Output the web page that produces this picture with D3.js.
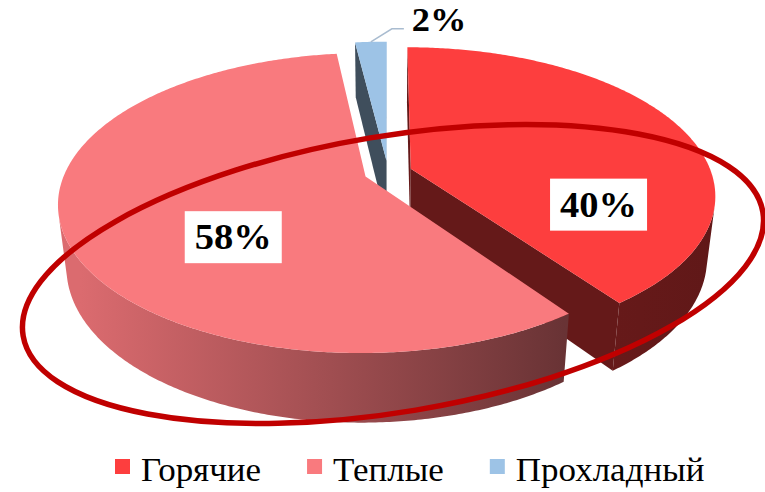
<!DOCTYPE html>
<html>
<head>
<meta charset="utf-8">
<script src="https://cdn.jsdelivr.net/npm/d3@7/dist/d3.min.js"></script>
<style>
  body { margin: 0; background: #fff; }
  svg { display: block; }
</style>
</head>
<body>
<svg id="chart"></svg>
<script>
var width = 765;
var height = 492;

var categories = ["Горячие", "Теплые", "Прохладный"];
var values = [40, 58, 2];
var labels = ["40%", "58%", "2%"];
var colors = ["#FD3E3E", "#F97A7E", "#9DC3E6"];

// where each label sits on its slice (degrees clockwise from 12 o'clock, fraction of radius)
var labelAngles = [112, 226, 356.4];
var labelRadius = [0.645, 0.56, 1.0];

// 3d view settings
var cx = 388, cy = 234, scale = 293;
var tilt = 31 * Math.PI / 180, dist = 5;
var thick = 0.24, explode = 0.08;
var cosT = Math.cos(tilt), sinT = Math.sin(tilt);
var camZ = -dist * cosT;

function proj(x, y, z) {
    var yv = y * cosT + z * sinT;
    var zv = z * cosT - y * sinT;
    var f = 1 / (1 + zv / dist);
    return [cx + scale * x * f, cy - scale * yv * f];
}

function shade(c, k) {
    var r = d3.rgb(c);
    return d3.rgb(r.r * k, r.g * k, r.b * k).formatHex();
}

var svg = d3.select("#chart")
    .attr("width", width)
    .attr("height", height);

var defs = svg.append("defs");
var line = d3.line();

var arcs = d3.pie().sort(null)(values).map(function(d, i) {
    var mid = (d.startAngle + d.endAngle) / 2;
    d.i = i;
    d.ox = explode * Math.sin(mid);
    d.oz = explode * Math.cos(mid);
    return d;
});

// side gradients, light on the left and dark on the right
var gx1 = proj(-1.05, 0, 0)[0], gx2 = proj(1.12, 0, 0)[0];
colors.forEach(function(c, i) {
    var g = defs.append("linearGradient")
        .attr("id", "side" + i)
        .attr("gradientUnits", "userSpaceOnUse")
        .attr("x1", gx1).attr("x2", gx2)
        .attr("y1", 0).attr("y2", 0);
    g.append("stop").attr("offset", 0).attr("stop-color", shade(c, 0.88));
    g.append("stop").attr("offset", 0.76).attr("stop-color", shade(c, 0.42));
    g.append("stop").attr("offset", 1).attr("stop-color", shade(c, 0.38));
});

function rim(d, a, r, y) {
    return proj(d.ox + r * Math.sin(a), y, d.oz + r * Math.cos(a));
}

var pie3d = svg.append("g");

arcs.slice().sort(function(a, b) { return b.oz - a.oz; }).forEach(function(d) {
    var g = pie3d.append("g");

    // cut faces
    [[d.startAngle, -1], [d.endAngle, 1]].forEach(function(e) {
        var a = e[0], s = e[1];
        var nx = s * Math.cos(a), nz = -s * Math.sin(a);
        var vis = nx * (0 - d.ox) + nz * (camZ - d.oz);
        if (vis <= 0) return;
        var pts = [rim(d, a, 0, thick), rim(d, a, 1, thick), rim(d, a, 1, 0), rim(d, a, 0, 0)];
        g.append("path")
            .attr("d", line(pts) + "Z")
            .attr("fill", shade(colors[d.i], 0.4));
    });

    // outer side, only the part facing the camera
    var n = Math.max(4, Math.ceil((d.endAngle - d.startAngle) / 0.01));
    var runs = [], cur = null;
    for (var k = 0; k <= n; k++) {
        var a = d.startAngle + (d.endAngle - d.startAngle) * k / n;
        var px = d.ox + Math.sin(a), pz = d.oz + Math.cos(a);
        var v = Math.sin(a) * (0 - px) + Math.cos(a) * (camZ - pz);
        if (v > 0) {
            if (!cur) { cur = []; runs.push(cur); }
            cur.push(a);
        } else cur = null;
    }
    runs.forEach(function(run) {
        var top = run.map(function(a) { return rim(d, a, 1, thick); });
        var bot = run.slice().reverse().map(function(a) { return rim(d, a, 1, 0); });
        g.append("path")
            .attr("d", line(top.concat(bot)) + "Z")
            .attr("fill", "url(#side" + d.i + ")");
    });

    // top face
    var tp = [rim(d, 0, 0, thick)];
    for (var k = 0; k <= n; k++) {
        var a = d.startAngle + (d.endAngle - d.startAngle) * k / n;
        tp.push(rim(d, a, 1, thick));
    }
    g.append("path")
        .attr("d", line(tp) + "Z")
        .attr("fill", colors[d.i]);
});

// data labels (glyphs a touch wider than Liberation Serif in the original)
var labelFont = "'Times New Roman', 'Liberation Serif', serif";
var stretch = 1.07;
arcs.forEach(function(d) {
    var a = labelAngles[d.i] * Math.PI / 180;
    var p = rim(d, a, labelRadius[d.i], thick);
    if (d.i === 2) {
        var elbow = [p[0] + 21, p[1] - 13];
        var end = [elbow[0] + 12, elbow[1]];
        svg.append("path")
            .attr("d", line([p, elbow, end]))
            .attr("fill", "none")
            .attr("stroke", "#A9BCD0")
            .attr("stroke-width", 1.5);
        svg.append("text")
            .attr("transform", "translate(" + (end[0] + 8) + "," + (end[1] + 2) + ") scale(" + stretch + ",1)")
            .attr("font-family", labelFont)
            .attr("font-weight", "bold")
            .attr("font-size", 34)
            .text(labels[d.i]);
        return;
    }
    var lg = svg.append("g").attr("transform", "translate(" + p[0] + "," + p[1] + ")");
    var rect = lg.append("rect").attr("fill", "#fff");
    var t = lg.append("text")
        .attr("text-anchor", "middle")
        .attr("transform", "translate(0,12) scale(" + stretch + ",1)")
        .attr("font-family", labelFont)
        .attr("font-weight", "bold")
        .attr("font-size", 36)
        .text(labels[d.i]);
    var w = t.node().getComputedTextLength() * stretch + 20;
    rect.attr("x", -w / 2).attr("y", -26).attr("width", w).attr("height", 52);
});

// red highlight ellipse drawn over the chart
svg.append("ellipse")
    .attr("transform", "translate(393,274) rotate(-9.5)")
    .attr("rx", 375)
    .attr("ry", 138)
    .attr("fill", "none")
    .attr("stroke", "#C00000")
    .attr("stroke-width", 5.5);

// legend
var legend = svg.append("g").attr("transform", "translate(115,459)");
var lx = 0;
categories.forEach(function(c, i) {
    var item = legend.append("g").attr("transform", "translate(" + lx + ",0)");
    item.append("rect")
        .attr("width", 15).attr("height", 15)
        .attr("fill", colors[i]);
    var t = item.append("text")
        .attr("transform", "translate(26,22) scale(1.06,1)")
        .attr("font-family", labelFont)
        .attr("font-size", 33)
        .text(c);
    lx += 26 + t.node().getComputedTextLength() * 1.06 + 46;
});
</script>
</body>
</html>
